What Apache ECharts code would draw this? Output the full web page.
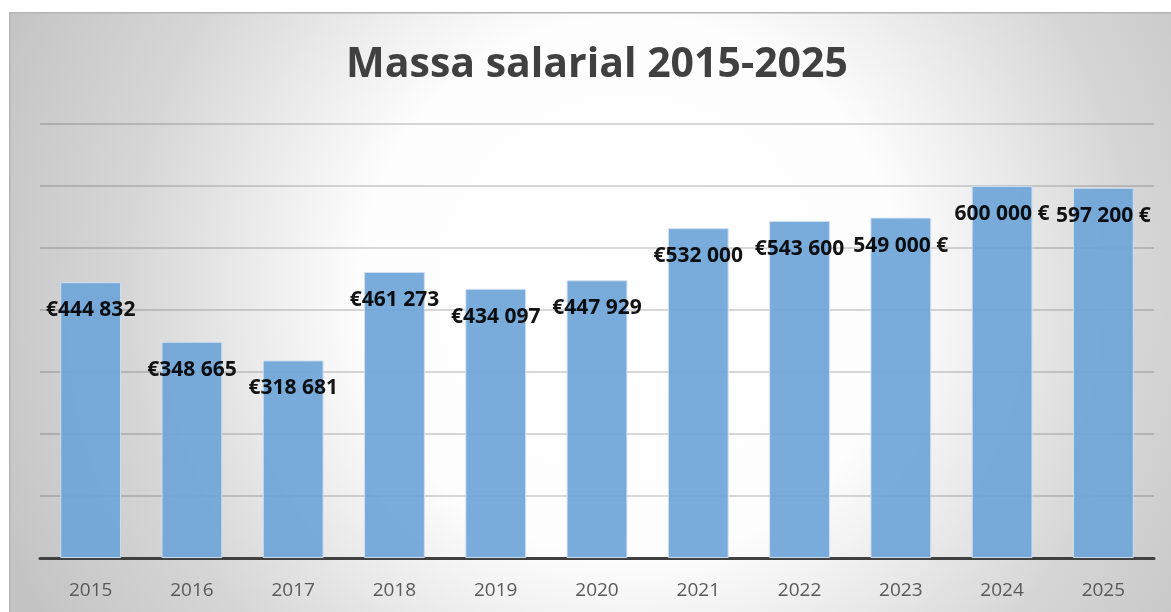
<!DOCTYPE html>
<html>
<head>
<meta charset="utf-8">
<script src="https://cdn.jsdelivr.net/npm/echarts@6/dist/echarts.min.js"></script>
<style>
html,body{margin:0;padding:0;background:#fff;}
#c{width:1171px;height:612px;}
</style>
</head>
<body>
<div id="c"></div>
<script>
const titleText = 'Massa salarial 2015-2025';
const categories = ['2015','2016','2017','2018','2019','2020','2021','2022','2023','2024','2025'];
const values = [444832, 348665, 318681, 461273, 434097, 447929, 532000, 543600, 549000, 600000, 597200];
const labels = ['€444 832','€348 665','€318 681','€461 273','€434 097','€447 929','€532 000','€543 600','549 000 €','600 000 €','597 200 €'];

const chart = echarts.init(document.getElementById('c'), null, {renderer:'canvas'});
chart.setOption({
  animation: false,
  backgroundColor: '#ffffff',
  graphic: [{
    type: 'rect', left: 9, top: 12, z: -10,
    shape: {width: 1171, height: 612},
    style: {
      fill: new echarts.graphic.RadialGradient(0.53, 0.45, 1.1, [
        {offset: 0, color: '#ffffff'},
        {offset: 0.4, color: '#fdfdfd'},
        {offset: 0.5, color: '#f2f2f2'},
        {offset: 0.75, color: '#d6d6d6'},
        {offset: 1, color: '#c4c4c4'}
      ]),
      stroke: '#b4b4b4', lineWidth: 1.5
    }
  }],
  title: {
    text: titleText, left: 592, top: 40, textAlign: 'center',
    textStyle: {fontFamily: 'Open Sans', fontWeight: 'bold', fontSize: 41, color: '#404040'}
  },
  grid: {left: 40, right: 17, top: 124, bottom: 54, containLabel: false},
  xAxis: {
    type: 'category', data: categories,
    axisLine: {lineStyle: {color: '#404040', width: 3}},
    axisTick: {show: false},
    axisLabel: {fontFamily: 'Open Sans', fontSize: 19, color: '#595959', margin: 23}
  },
  yAxis: {
    type: 'value', min: 0, max: 700000, interval: 100000,
    axisLabel: {show: false}, axisLine: {show: false}, axisTick: {show: false},
    splitLine: {lineStyle: {color: 'rgba(0,0,0,0.2)', width: 1.5}}
  },
  series: [{
    type: 'bar', data: values, barWidth: '60%',
    itemStyle: {color: '#6fa5d8', borderColor: '#cfe0f2', borderWidth: 1, opacity: 0.92},
    label: {
      show: true, position: 'insideTop', distance: 17, lineHeight: 22,
      formatter: p => labels[p.dataIndex],
      fontFamily: 'Open Sans', fontWeight: 'bold', fontSize: 21, color: '#000000'
    }
  }]
});
</script>
</body>
</html>
